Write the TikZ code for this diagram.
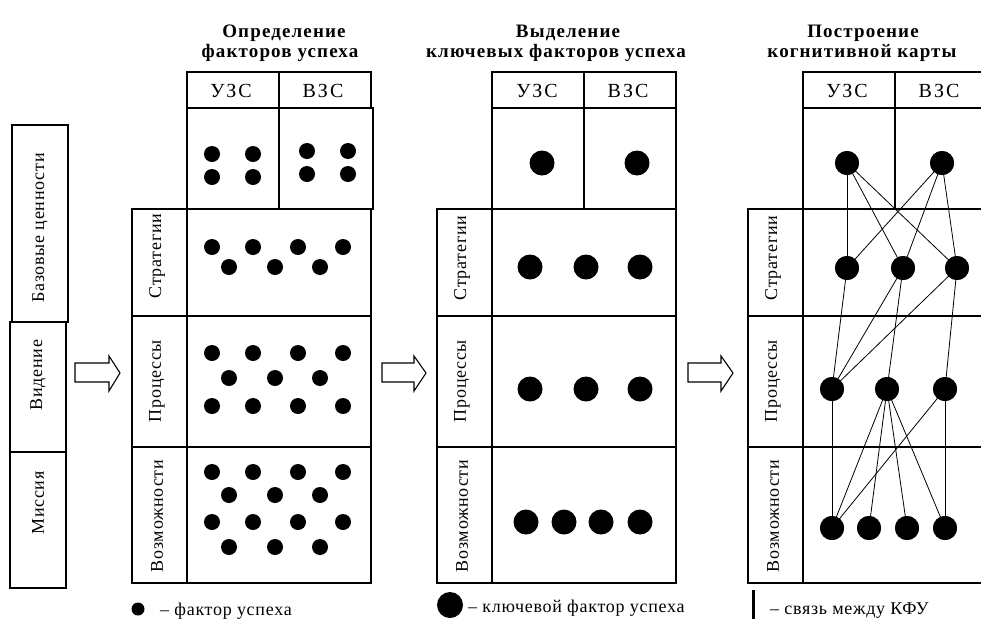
\documentclass[tikz,border=0pt]{standalone}
\usepackage{fontspec}
\setmainfont{Liberation Serif}[LetterSpace=4]
\newfontfamily\hdfont{Liberation Serif}[LetterSpace=10]
\newfontfamily\ttlfont{Liberation Serif}[LetterSpace=6]
\begin{document}
\begin{tikzpicture}[x=1pt,y=-1pt,
  box/.style={draw=black,line width=1.2pt},
  lbl/.style={font=\fontsize{18}{20}\selectfont,inner sep=0pt},
  rot/.style={lbl,rotate=90},
  hdr/.style={font=\hdfont\fontsize{20}{22}\selectfont,anchor=base,inner sep=0pt},
  ttl/.style={font=\ttlfont\bfseries\fontsize{19}{22}\selectfont,anchor=base,inner sep=0pt},
  leg/.style={lbl,anchor=base west},
  sdot/.style={circle,fill=black,minimum size=16pt,inner sep=0pt},
  bdot/.style={circle,fill=black,minimum size=25pt,inner sep=0pt},
  cdot/.style={circle,fill=black,minimum size=24pt,inner sep=0pt},
  link/.style={draw=black,line width=0.8pt},
  blockarrow/.style={draw=black,line width=1.1pt,fill=white}]
\useasboundingbox (0,0) rectangle (981,619);
\clip (0,0) rectangle (981,619);
\fill[white] (0,0) rectangle (981,619);

% ---- left column ----
\draw[box] (12,125) rectangle (68,322);
\draw[box] (10,322) rectangle (66,452);
\draw[box] (10,452) rectangle (66,588);
\node[rot] (bv) at (40,228) {Базовые ценности};
\node[rot] (vid) at (38,375) {Видение};
\node[rot] (mis) at (38,503) {Миссия};

% ---- arrows ----
\draw[blockarrow] (75,363) -- (109,363) -- (109,356) -- (120,373) -- (109,391) -- (109,382) -- (75,382) -- cycle;
\draw[blockarrow] (382,363) -- (414,363) -- (414,356) -- (426,373) -- (414,391) -- (414,382) -- (382,382) -- cycle;
\draw[blockarrow] (688,363) -- (721,363) -- (721,356) -- (733,373) -- (721,391) -- (721,382) -- (688,382) -- cycle;

% ---- table 1 ----
\node[ttl] (t1a) at (284,37) {Определение};
\node[ttl] (t1b) at (280,57) {факторов успеха};
\draw[box] (187,72) rectangle (279,108);
\draw[box] (279,72) rectangle (371,108);
\draw[box] (187,108) rectangle (279,209);
\draw[box] (279,108) rectangle (373,209);
\draw[box] (132,209) rectangle (371,583);
\draw[box] (187,209) -- (187,583);
\draw[box] (132,316) -- (371,316);
\draw[box] (132,447) -- (371,447);
\node[hdr] (h1a) at (231,97) {УЗС};
\node[hdr] (h1b) at (323,97) {ВЗС};
\node[rot] (r1s) at (157,256) {Стратегии};
\node[rot] (r1p) at (157,381) {Процессы};
\node[rot] (r1v) at (157,516) {Возможности};
% base dots
\foreach \x/\y [count=\i] in {212/154,253/154,212/177,253/177,307/151,348/151,307/174,348/174}
  \node[sdot] (d1b\i) at (\x,\y) {};
% strategy dots
\foreach \x/\y [count=\i] in {212/247,253/247,298/247,343/247,229/267,275/267,320/267}
  \node[sdot] (d1s\i) at (\x,\y) {};
% process dots
\foreach \x/\y [count=\i] in {212/353,253/353,298/353,343/353,229/378,275/378,320/378,212/406,253/406,298/406,343/406}
  \node[sdot] (d1p\i) at (\x,\y) {};
% possibility dots
\foreach \x/\y [count=\i] in {212/472,253/472,298/472,343/472,229/495,275/495,320/495,212/522,253/522,298/522,343/522,229/547,275/547,320/547}
  \node[sdot] (d1v\i) at (\x,\y) {};

% ---- table 2 ----
\node[ttl] (t2a) at (568,37) {Выделение};
\node[ttl] (t2b) at (556,57) {ключевых факторов успеха};
\draw[box] (492,72) rectangle (584,108);
\draw[box] (584,72) rectangle (676,108);
\draw[box] (492,108) rectangle (584,209);
\draw[box] (584,108) rectangle (676,209);
\draw[box] (437,209) rectangle (676,583);
\draw[box] (492,209) -- (492,583);
\draw[box] (437,316) -- (676,316);
\draw[box] (437,447) -- (676,447);
\node[hdr] (h2a) at (537,97) {УЗС};
\node[hdr] (h2b) at (628,97) {ВЗС};
\node[rot] (r2s) at (462,258) {Стратегии};
\node[rot] (r2p) at (462,381) {Процессы};
\node[rot] (r2v) at (462,516) {Возможности};
\foreach \x/\y [count=\i] in {542/163,637/163}
  \node[bdot] (d2b\i) at (\x,\y) {};
\foreach \x/\y [count=\i] in {530/267,586/267,640/267}
  \node[bdot] (d2s\i) at (\x,\y) {};
\foreach \x/\y [count=\i] in {530/389,586/389,640/389}
  \node[bdot] (d2p\i) at (\x,\y) {};
\foreach \x/\y [count=\i] in {526/522,564/522,601/522,640/522}
  \node[bdot] (d2v\i) at (\x,\y) {};

% ---- table 3 ----
\node[ttl] (t3a) at (863,37) {Построение};
\node[ttl] (t3b) at (862,57) {когнитивной карты};
\draw[box] (803,72) rectangle (895,108);
\draw[box] (895,72) rectangle (987,108);
\draw[box] (803,108) rectangle (895,209);
\draw[box] (895,108) rectangle (987,209);
\draw[box] (748,209) rectangle (987,583);
\draw[box] (803,209) -- (803,583);
\draw[box] (748,316) -- (987,316);
\draw[box] (748,447) -- (987,447);
\node[hdr] (h3a) at (847,97) {УЗС};
\node[hdr] (h3b) at (939,97) {ВЗС};
\node[rot] (r3s) at (773,258) {Стратегии};
\node[rot] (r3p) at (773,381) {Процессы};
\node[rot] (r3v) at (773,516) {Возможности};
\node[cdot] (b1) at (847,163) {};
\node[cdot] (b2) at (942,163) {};
\node[cdot] (s1) at (847,268) {};
\node[cdot] (s2) at (903,268) {};
\node[cdot] (s3) at (957,268) {};
\node[cdot] (p1) at (832,389) {};
\node[cdot] (p2) at (887,389) {};
\node[cdot] (p3) at (945,389) {};
\node[cdot] (v1) at (832,528) {};
\node[cdot] (v2) at (869,528) {};
\node[cdot] (v3) at (907,528) {};
\node[cdot] (v4) at (945,528) {};
\foreach \a/\b in {b1/s1,b1/s2,b1/s3,b2/s1,b2/s2,b2/s3,
                   s1/p1,s2/p1,s2/p2,s3/p1,s3/p3,
                   p1/v1,p2/v1,p2/v2,p2/v3,p2/v4,p3/v1,p3/v4}
  \draw[link] (\a.center) -- (\b.center);
\foreach \n in {b1,b2,s1,s2,s3,p1,p2,p3,v1,v2,v3,v4}
  \fill (\n) circle (12pt);

% ---- legends ----
\node[circle,fill=black,minimum size=13pt,inner sep=0pt] (l1dot) at (138,609) {};
\node[leg] (l1) at (160,615) {– фактор успеха};
\node[bdot,minimum size=26pt] (l2dot) at (450,605) {};
\node[leg] (l2) at (468,612) {– ключевой фактор успеха};
\coordinate (l3top) at (753,590);
\coordinate (l3bot) at (753,619);
\draw[line width=3pt] (l3top) -- (l3bot);
\node[leg] (l3) at (770,614) {– связь между КФУ};
\end{tikzpicture}
\end{document}
